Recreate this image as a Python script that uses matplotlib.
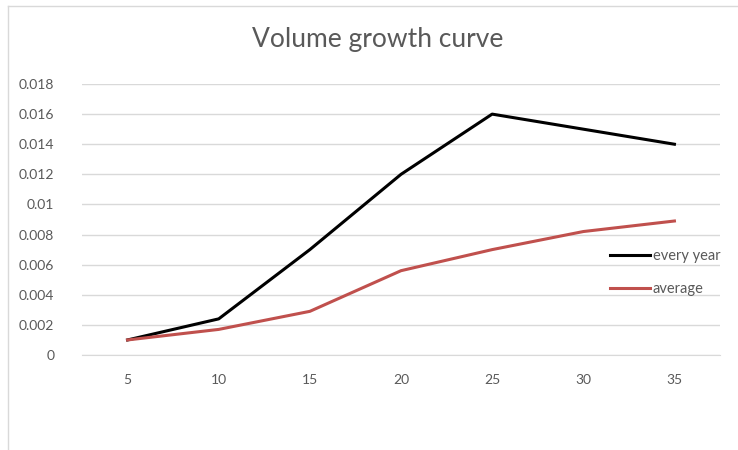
import matplotlib
matplotlib.use("Agg")
import matplotlib.pyplot as plt
from matplotlib.lines import Line2D

# Data
ages = ["5", "10", "15", "20", "25", "30", "35"]
every_year = [0.001, 0.0024, 0.007, 0.012, 0.016, 0.015, 0.014]
average = [0.001, 0.0017, 0.0029, 0.0056, 0.007, 0.0082, 0.0089]
y_ticks = [0, 0.002, 0.004, 0.006, 0.008, 0.01, 0.012, 0.014, 0.016, 0.018]
y_tick_labels = ["0", "0.002", "0.004", "0.006", "0.008", "0.01",
                 "0.012", "0.014", "0.016", "0.018"]

plt.rcParams["font.family"] = ["Lato", "DejaVu Sans"]
text_color = "#595959"
grid_color = "#D9D9D9"

fig = plt.figure(figsize=(7.38, 4.5), dpi=100)
W, H = 738, 450

# Chart frame
fig.add_artist(Line2D([8 / W, 1], [1 - 6 / H, 1 - 6 / H], transform=fig.transFigure,
                      color=grid_color, lw=1))
fig.add_artist(Line2D([8 / W, 8 / W], [0, 1 - 6 / H], transform=fig.transFigure,
                      color=grid_color, lw=1))

ax = fig.add_axes([82 / W, 1 - 355 / H, (720 - 82) / W, (355 - 84) / H])
x = list(range(len(ages)))
ax.plot(x, every_year, color="#000000", lw=2.2, label="every year", solid_joinstyle="round")
ax.plot(x, average, color="#C0504D", lw=2.2, label="average", solid_joinstyle="round")

ax.set_xlim(-0.5, len(ages) - 0.5)
ax.set_ylim(0, 0.018)
ax.set_xticks(x)
ax.set_xticklabels(ages)
ax.set_yticks(y_ticks)
ax.set_yticklabels(y_tick_labels)
ax.tick_params(axis="both", length=0, labelsize=10, labelcolor=text_color)
ax.tick_params(axis="x", pad=14)
ax.tick_params(axis="y", pad=20)
for lbl in ax.get_yticklabels():
    lbl.set_horizontalalignment("right")

ax.grid(axis="y", color=grid_color, lw=1)
ax.set_axisbelow(True)
for side in ["top", "right", "left"]:
    ax.spines[side].set_visible(False)
ax.spines["bottom"].set_color(grid_color)

fig.text(378 / W, 1 - 40 / H, "Volume growth curve", ha="center", va="center",
         fontsize=19, color=text_color)

leg = ax.legend(loc="upper left", bbox_to_anchor=((603 - 82) / (720 - 82), (355 - 242) / (355 - 84)),
                frameon=False, fontsize=10.5, labelcolor=text_color,
                handlelength=2.7, handletextpad=0.2, labelspacing=1.3,
                borderpad=0)

fig.savefig("out.png", dpi=100)
